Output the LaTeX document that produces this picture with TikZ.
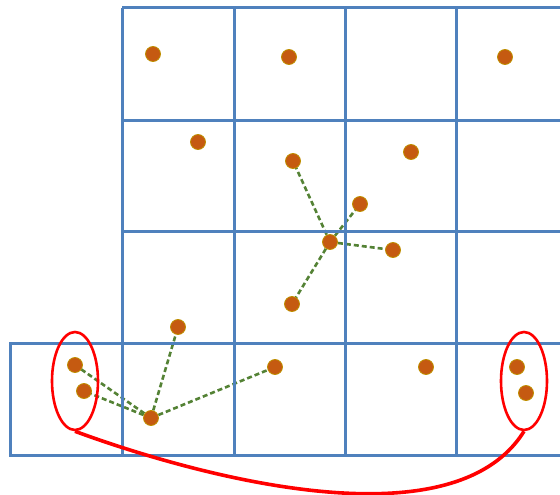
\documentclass[tikz,border=0pt]{standalone}
\usepackage{tikz}
\usetikzlibrary{shapes.geometric,backgrounds}
\definecolor{gridblue}{RGB}{79,129,189}
\definecolor{dotfill}{RGB}{197,90,17}
\definecolor{dotrim}{RGB}{191,144,0}
\definecolor{linkgreen}{RGB}{84,130,53}
\tikzset{
  cell/.style={draw=gridblue, line width=3pt},
  pt/.style={circle, fill=dotfill, draw=dotrim, line width=0.8pt,
             minimum size=15pt, inner sep=0pt},
  link/.style={draw=linkgreen, dashed, dash pattern=on 5pt off 3pt,
               line width=2.6pt},
  group/.style={ellipse, draw=red, line width=2.6pt, inner sep=0pt,
                minimum width=46pt, minimum height=98pt},
  bridge/.style={draw=red, line width=3.6pt},
}

\begin{document}
\begin{tikzpicture}[x=1pt, y=-1pt]
\useasboundingbox (0,0) rectangle (560,495);

% grid
\foreach \y in {8,120,231,343,455}
  \draw[cell] (122,\y) -- (562,\y);
\foreach \x in {122,234,345,456}
  \draw[cell] (\x,8) -- (\x,455);
\draw[cell] (122,343) -- (10,343) -- (10,455) -- (122,455);

% points
\foreach \n/\px/\py in {a/153/54, b/289/57, c/505/57,
                        d/198/142, e/293/161, f/411/152,
                        g/360/204, hub/330/242, i/393/250, j/292/304,
                        k/178/327,
                        l/75/365, m/84/391, base/151/418, o/275/367,
                        p/426/367, q/517/367, r/526/393}
  \node[pt] (\n) at (\px,\py) {};

% neighbour links
\begin{scope}[on background layer]
\foreach \t in {e,g,i,j}
  \draw[link] (hub.center) -- (\t.center);
\foreach \t in {k,l,m,o}
  \draw[link] (base.center) -- (\t.center);
\end{scope}

% wrapped cells
\node[group] (left) at (75,381) {};
\node[group] (right) at (524,381) {};
\draw[bridge] (left.south) .. controls (180,470) and (450,550) .. (right.south);

\end{tikzpicture}
\end{document}
